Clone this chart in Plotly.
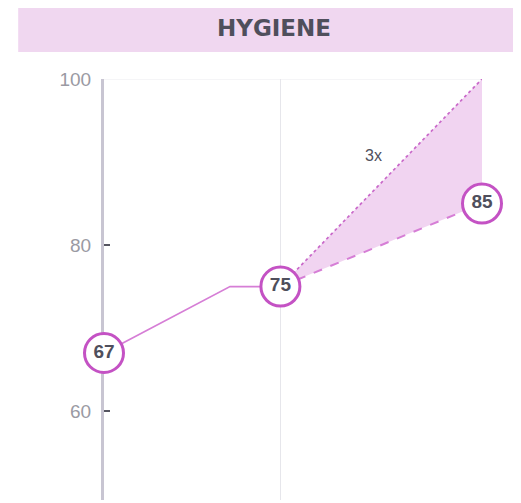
import plotly.graph_objects as go

# Data
years_hist = [2000, 2010, 2014]
hygiene_hist = [67, 75, 75]
years_proj = [2014, 2030]
proj_current = [75, 85]
proj_3x = [75, 100]
label_years = [2000, 2014, 2030]
label_values = [67, 75, 85]
label_texts = ["67", "75", "85"]
y_ticks = [60, 80, 100]
title_text = "HYGIENE"
note_text = "3x"
note_x, note_y = 2021.4, 90.8

LINE = "#d67ed6"
RING = "#c452c4"
FILL = "rgba(238, 204, 238, 0.85)"
DARK = "#4f4f5c"
FONT = "Liberation Sans"

fig = go.Figure()

# projected current pace (dashed)
fig.add_trace(go.Scatter(x=years_proj, y=proj_current, mode="lines",
                         line=dict(color=LINE, width=2, dash="dash"),
                         hoverinfo="skip", showlegend=False))
# 3x pace (dotted) with fill between
fig.add_trace(go.Scatter(x=years_proj, y=proj_3x, mode="lines",
                         line=dict(color="#c968c9", width=1.7, dash="dot"),
                         fill="tonexty", fillcolor=FILL,
                         hoverinfo="skip", showlegend=False))
# history
fig.add_trace(go.Scatter(x=years_hist, y=hygiene_hist, mode="lines",
                         line=dict(color=LINE, width=1.6),
                         hoverinfo="skip", showlegend=False))
# labelled markers
fig.add_trace(go.Scatter(x=label_years, y=label_values, mode="markers+text",
                         marker=dict(size=39, color="white",
                                     line=dict(color=RING, width=3)),
                         text=label_texts, textposition="middle center",
                         textfont=dict(family=FONT, size=19, color=DARK, weight="bold"),
                         cliponaxis=False, hoverinfo="skip", showlegend=False))

# title bar
fig.add_shape(type="rect", xref="paper", yref="paper",
              x0=-0.227, x1=1.12, y0=1.064, y1=1.19,
              fillcolor="#f0d7f0", line=dict(width=0), layer="below")
fig.add_annotation(text=title_text, xref="paper", yref="paper",
                   x=0.45, y=1.121, xanchor="center", yanchor="middle",
                   showarrow=False,
                   font=dict(family="DejaVu Sans", size=23, color=DARK, weight="bold"))
# top gridline at 100
fig.add_shape(type="line", xref="x", yref="y", x0=2000, x1=2030, y0=100, y1=100,
              line=dict(color="#ececf0", width=1), layer="below")
# "3x" annotation
fig.add_annotation(text=note_text, x=note_x, y=note_y, showarrow=False,
                   font=dict(family=FONT, size=16, color=DARK))

fig.update_layout(
    width=513, height=495,
    margin=dict(l=96, r=39, t=71, b=3),
    paper_bgcolor="white", plot_bgcolor="white",
    xaxis=dict(range=[2000, 2030], tickvals=[2014, 2030], showticklabels=False,
               showgrid=True, gridcolor="#e6e6eb", gridwidth=1,
               zeroline=False, showline=False, ticks=""),
    yaxis=dict(range=[49.3, 100], tickvals=y_ticks, showgrid=False, zeroline=False,
               showline=True, linecolor="#c8c5d2", linewidth=3,
               ticks="inside", ticklen=6, tickwidth=2, tickcolor="#555560",
               ticklabelstandoff=6, layer="below traces",
               tickfont=dict(family=FONT, size=19, color="#9a9aa3")),
)

fig.write_html("out.html")
